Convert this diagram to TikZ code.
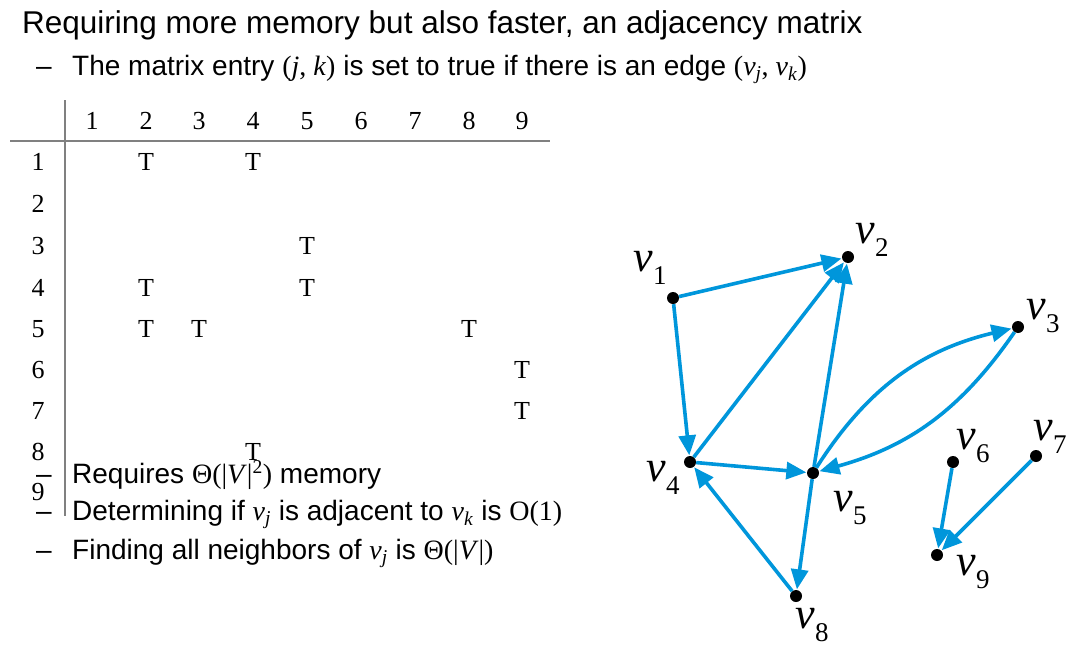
\documentclass[tikz,border=0pt]{standalone}
\usepackage{fontspec}
\setmainfont{Liberation Sans}
\newfontfamily\tms{Liberation Serif}
\usetikzlibrary{arrows.meta}
\definecolor{eblue}{RGB}{0,150,219}
\definecolor{lgray}{RGB}{128,128,128}
\newcommand\mylab[1]{v\raisebox{-13pt}{\upshape\fontsize{27}{27}\selectfont #1}}
\begin{document}
\begin{tikzpicture}[x=1pt,y=-1pt,
 dot/.style={circle,fill=black,inner sep=0pt,minimum size=12pt},
 edge/.style={draw=eblue,line width=3.6pt,-{Triangle[length=20pt,width=17pt]},shorten >=0.5pt},
 vlab/.style={font=\tms\fontsize{44}{44}\selectfont\itshape,inner sep=0pt},
 mtx/.style={font=\tms\fontsize{26}{26}\selectfont,inner sep=0pt},
 txt/.style={anchor=base west,inner sep=0pt,font=\fontsize{28}{32}\selectfont},
 ttl/.style={anchor=base west,inner sep=0pt,font=\fontsize{31.5}{36}\selectfont},
 rule/.style={draw=lgray,line width=2pt}
]
\useasboundingbox (0,0) rectangle (1070,645);
% texts
\node[ttl] (title) at (22,33) {Requiring more memory but also faster, an adjacency matrix};
\node[txt] (d1) at (36,75) {–};
\node[txt] (t1) at (72,75) {The matrix entry {\tms(\textit{j}, \textit{k})} is set to true if there is an edge {\tms(\textit{v}\textsubscript{\textit{j}}, \textit{v}\textsubscript{\textit{k}})}};
% matrix rules
\coordinate (vt) at (65,100);
\coordinate (vb) at (65,516);
\coordinate (hl) at (10,141);
\coordinate (hr) at (550,141);
\draw[rule] (vt) -- (vb);
\draw[rule] (hl) -- (hr);
% header
\foreach \c/\x in {1/92,2/146,3/199,4/253,5/307,6/361,7/415,8/469,9/522}
  \node[mtx] (h\c) at (\x,121) {\c};
\foreach \r/\y in {1/162,2/204,3/246,4/288,5/329,6/370,7/411,8/452,9/492}
  \node[mtx] (r\r) at (38,\y) {\r};
% entries
\foreach \x/\y/\n in {146/162/a,253/162/b,307/246/c,146/288/d,307/288/e,146/329/f,199/329/g,469/329/h,522/370/i,522/411/j,253/452/k}
  \node[mtx] (e\n) at (\x,\y) {T};
% bottom bullets
\node[txt] (d2) at (36,483) {–};
\node[txt] (t2) at (72,483) {Requires {\tms Θ(|\textit{V}|\textsuperscript{2})} memory};
\node[txt] (d3) at (36,520) {–};
\node[txt] (t3) at (72,520) {Determining if {\tms\textit{v}\textsubscript{\textit{j}}} is adjacent to {\tms\textit{v}\textsubscript{\textit{k}}} is {\tms O(1)}};
\node[txt] (d4) at (36,559) {–};
\node[txt] (t4) at (72,559) {Finding all neighbors of {\tms\textit{v}\textsubscript{\textit{j}}} is {\tms Θ(|\textit{V}|)}};
% graph
\node[dot] (v1) at (673,298) {};
\node[dot] (v2) at (848,257) {};
\node[dot] (v3) at (1018,327) {};
\node[dot] (v4) at (690,462) {};
\node[dot] (v5) at (813,473) {};
\node[dot] (v6) at (953,462) {};
\node[dot] (v7) at (1036,456) {};
\node[dot] (v8) at (796,596) {};
\node[dot] (v9) at (937,555) {};
\node[vlab] (l1) at (650,268) {\mylab{1}};
\node[vlab] (l2) at (872,240) {\mylab{2}};
\node[vlab] (l3) at (1043,316) {\mylab{3}};
\node[vlab] (l4) at (663,478) {\mylab{4}};
\node[vlab] (l5) at (850,508) {\mylab{5}};
\node[vlab] (l6) at (973,446) {\mylab{6}};
\node[vlab] (l7) at (1050,437) {\mylab{7}};
\node[vlab] (l8) at (812,625) {\mylab{8}};
\node[vlab] (l9) at (973,572) {\mylab{9}};
\draw[edge] (v1) -- (v2);
\draw[edge] (v1) -- (v4);
\draw[edge] (v4) -- (v2);
\draw[edge] (v5) -- (v2);
\draw[edge] (v4) -- (v5);
\draw[edge] (v8) -- (v4);
\draw[edge] (v5) -- (v8);
\draw[edge] (v5) to[bend left=22] (v3);
\draw[edge] (v3) to[bend left=20] (v5);
\draw[edge] (v6) -- (v9);
\draw[edge] (v7) -- (v9);
\end{tikzpicture}
\end{document}
